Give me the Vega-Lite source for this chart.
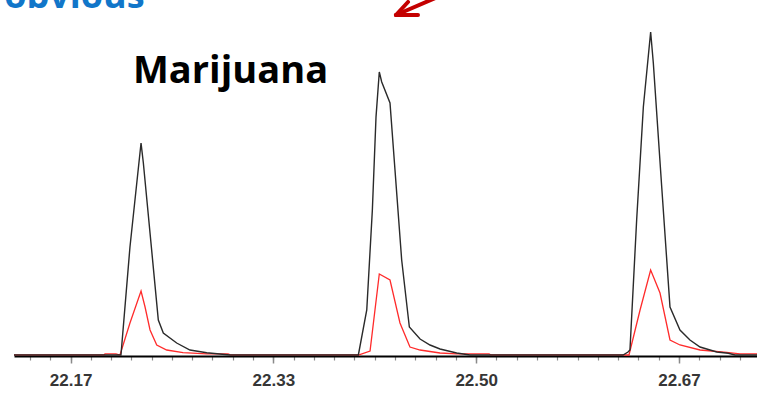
{
  "$schema": "https://vega.github.io/schema/vega-lite/v6.json",
  "autosize": "none",
  "width": 743,
  "height": 341,
  "padding": {"left": 14, "top": 15, "right": 0, "bottom": 37},
  "background": "#ffffff",
  "config": {"view": {"stroke": null}},
  "datasets": {
    "red": [
      {"t": 22.1202, "v": 0}, {"t": 22.1942, "v": 0}, {"t": 22.1950, "v": 1.2}, {"t": 22.2040, "v": 1.2},
      {"t": 22.2073, "v": 0}, {"t": 22.2155, "v": 32}, {"t": 22.2246, "v": 64}, {"t": 22.2279, "v": 48},
      {"t": 22.2320, "v": 25}, {"t": 22.2375, "v": 10}, {"t": 22.2457, "v": 5}, {"t": 22.2591, "v": 2.3},
      {"t": 22.2786, "v": 1.2}, {"t": 22.2961, "v": 1.2}, {"t": 22.2985, "v": 0}, {"t": 22.4032, "v": 0},
      {"t": 22.4128, "v": 4}, {"t": 22.4204, "v": 81}, {"t": 22.4292, "v": 75}, {"t": 22.4374, "v": 32},
      {"t": 22.4456, "v": 8}, {"t": 22.4539, "v": 5}, {"t": 22.4703, "v": 2}, {"t": 22.4840, "v": 1.2},
      {"t": 22.5106, "v": 1.2}, {"t": 22.5122, "v": 0}, {"t": 22.6256, "v": 0}, {"t": 22.6347, "v": 45},
      {"t": 22.6434, "v": 85}, {"t": 22.6511, "v": 62}, {"t": 22.6593, "v": 15}, {"t": 22.6675, "v": 10},
      {"t": 22.6840, "v": 5}, {"t": 22.7059, "v": 2.7}, {"t": 22.7168, "v": 1.2}, {"t": 22.7308, "v": 1.2}
    ],
    "black": [
      {"t": 22.1202, "v": 0}, {"t": 22.2081, "v": 0}, {"t": 22.2155, "v": 108}, {"t": 22.2246, "v": 212},
      {"t": 22.2265, "v": 192}, {"t": 22.2388, "v": 35}, {"t": 22.2429, "v": 22}, {"t": 22.2539, "v": 12},
      {"t": 22.2648, "v": 5}, {"t": 22.2786, "v": 2.3}, {"t": 22.2977, "v": 0}, {"t": 22.4032, "v": 0},
      {"t": 22.4101, "v": 45}, {"t": 22.4147, "v": 145}, {"t": 22.4177, "v": 238}, {"t": 22.4204, "v": 283},
      {"t": 22.4224, "v": 273}, {"t": 22.4292, "v": 252}, {"t": 22.4333, "v": 185}, {"t": 22.4388, "v": 95},
      {"t": 22.4451, "v": 28}, {"t": 22.4539, "v": 16}, {"t": 22.4621, "v": 10}, {"t": 22.4703, "v": 6},
      {"t": 22.4840, "v": 2}, {"t": 22.4949, "v": 0}, {"t": 22.6207, "v": 0}, {"t": 22.6248, "v": 3},
      {"t": 22.6264, "v": 5}, {"t": 22.6319, "v": 135}, {"t": 22.6374, "v": 248}, {"t": 22.6434, "v": 323},
      {"t": 22.6456, "v": 292}, {"t": 22.6525, "v": 168}, {"t": 22.6593, "v": 48}, {"t": 22.6675, "v": 25},
      {"t": 22.6757, "v": 15}, {"t": 22.6840, "v": 8}, {"t": 22.6977, "v": 3}, {"t": 22.7072, "v": 1.7},
      {"t": 22.7127, "v": 0}, {"t": 22.7308, "v": 0}
    ],
    "labels": [
      {"t": 22.2180, "v": 272, "text": "Marijuana"}
    ],
    "heading": [
      {"t": 22.2276, "v": 347.5, "text": "obvious"}
    ],
    "arrow": [
      {"t": 22.4341, "v": 340, "t2": 22.4703, "v2": 359},
      {"t": 22.4341, "v": 340, "t2": 22.4522, "v2": 340},
      {"t": 22.4341, "v": 340, "t2": 22.4440, "v2": 353}
    ]
  },
  "resolve": {"axis": {"x": "independent"}},
  "layer": [
    {
      "data": {"name": "red"},
      "mark": {"type": "line", "color": "#ff2b2b", "strokeWidth": 1.3},
      "encoding": {
        "x": {"field": "t", "type": "quantitative", "scale": {"domain": [22.1202, 22.7308], "nice": false, "zero": false},
          "axis": {"orient": "bottom", "values": [22.1333, 22.15, 22.1667, 22.1833, 22.2, 22.2167, 22.2333, 22.25, 22.2667, 22.2833, 22.3, 22.3167, 22.3333, 22.35, 22.3667, 22.3833, 22.4, 22.4167, 22.4333, 22.45, 22.4667, 22.4833, 22.5, 22.5167, 22.5333, 22.55, 22.5667, 22.5833, 22.6, 22.6167, 22.6333, 22.65, 22.6667, 22.6833, 22.7, 22.7167],
            "labels": false, "domain": false, "grid": false, "title": null, "tickSize": 4, "tickColor": "#8a8a8a", "tickWidth": 1.2}},
        "y": {"field": "v", "type": "quantitative", "scale": {"domain": [-1, 340], "nice": false, "zero": false}, "axis": null}
      }
    },
    {
      "data": {"name": "black"},
      "mark": {"type": "line", "color": "#2a2a2a", "strokeWidth": 1.4},
      "encoding": {
        "x": {"field": "t", "type": "quantitative", "scale": {"domain": [22.1202, 22.7308], "nice": false, "zero": false},
          "axis": {"orient": "bottom", "values": [22.1667, 22.3333, 22.5, 22.6667], "format": ".2f",
            "domain": true, "domainColor": "#000000", "domainWidth": 2, "grid": false, "title": null,
            "tickSize": 7, "tickColor": "#8a8a8a", "tickWidth": 1.5,
            "labelFont": "Liberation Sans", "labelFontSize": 17, "labelFontWeight": "bold", "labelColor": "#363636", "labelPadding": 9}},
        "y": {"field": "v", "type": "quantitative", "scale": {"domain": [-1, 340], "nice": false, "zero": false}, "axis": null}
      }
    },
    {
      "data": {"name": "labels"},
      "mark": {"type": "text", "align": "left", "baseline": "alphabetic", "font": "Open Sans", "fontSize": 38, "fontWeight": "bold", "color": "#000000"},
      "encoding": {
        "x": {"field": "t", "type": "quantitative", "scale": {"domain": [22.1202, 22.7308], "nice": false, "zero": false}, "axis": null},
        "y": {"field": "v", "type": "quantitative", "scale": {"domain": [-1, 340], "nice": false, "zero": false}, "axis": null},
        "text": {"field": "text"}
      }
    },
    {
      "data": {"name": "heading"},
      "mark": {"type": "text", "align": "right", "baseline": "alphabetic", "font": "Open Sans", "fontSize": 36, "fontWeight": "bold", "color": "#1176c9"},
      "encoding": {
        "x": {"field": "t", "type": "quantitative", "scale": {"domain": [22.1202, 22.7308], "nice": false, "zero": false}, "axis": null},
        "y": {"field": "v", "type": "quantitative", "scale": {"domain": [-1, 340], "nice": false, "zero": false}, "axis": null},
        "text": {"field": "text"}
      }
    },
    {
      "data": {"name": "arrow"},
      "mark": {"type": "rule", "color": "#c40000", "strokeWidth": 4, "strokeCap": "round"},
      "encoding": {
        "x": {"field": "t", "type": "quantitative", "scale": {"domain": [22.1202, 22.7308], "nice": false, "zero": false}, "axis": null},
        "x2": {"field": "t2"},
        "y": {"field": "v", "type": "quantitative", "scale": {"domain": [-1, 340], "nice": false, "zero": false}, "axis": null},
        "y2": {"field": "v2"}
      }
    }
  ]
}
